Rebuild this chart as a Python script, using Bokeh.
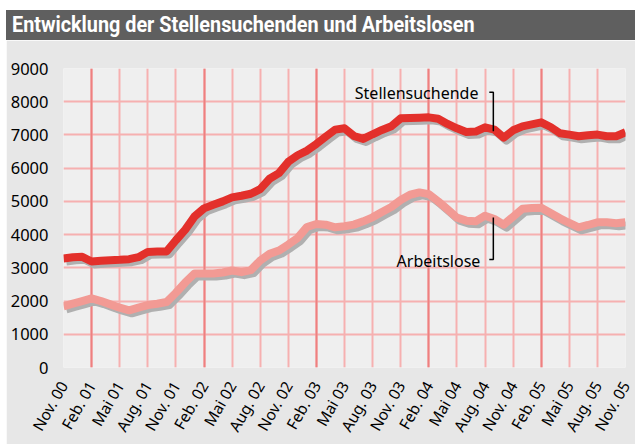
import math
from bokeh.plotting import figure
from bokeh.layouts import column
from bokeh.models import ColumnDataSource, FixedTicker, Grid, Label, Div
from bokeh.transform import dodge
from bokeh.embed import file_html
from bokeh.resources import INLINE

# ---------------- data ----------------
tick_labels = ["Nov. 00", "Feb. 01", "Mai 01", "Aug. 01", "Nov. 01",
               "Feb. 02", "Mai 02", "Aug. 02", "Nov. 02",
               "Feb. 03", "Mai 03", "Aug. 03", "Nov. 03",
               "Feb. 04", "Mai 04", "Aug. 04", "Nov. 04",
               "Feb. 05", "Mai 05", "Aug. 05", "Nov. 05"]

# monthly values, Nov. 00 .. Nov. 05
stellensuchende = [3280, 3320, 3330, 3190, 3210, 3230, 3240, 3260, 3320, 3480,
                   3490, 3490, 3830, 4150, 4550, 4790, 4900, 5000, 5120, 5170,
                   5230, 5370, 5680, 5850, 6190, 6390, 6530, 6730, 6950, 7160,
                   7200, 6970, 6880, 7020, 7150, 7260, 7500, 7510, 7520, 7530,
                   7490, 7330, 7200, 7090, 7100, 7230, 7160, 6920, 7140, 7260,
                   7320, 7380, 7240, 7050, 7010, 6960, 6990, 7010, 6960, 6960,
                   7080]
arbeitslose = [1840, 1920, 2000, 2080, 2000, 1900, 1800, 1720, 1800, 1880,
               1920, 1970, 2250, 2560, 2830, 2830, 2830, 2860, 2920, 2870,
               2930, 3220, 3420, 3520, 3700, 3900, 4230, 4320, 4300, 4220,
               4250, 4300, 4400, 4520, 4680, 4830, 5040, 5200, 5270, 5220,
               5000, 4760, 4510, 4420, 4400, 4570, 4470, 4300, 4540, 4780,
               4800, 4810, 4650, 4490, 4350, 4220, 4290, 4370, 4370, 4340,
               4370]
y_ticks = [0, 1000, 2000, 3000, 4000, 5000, 6000, 7000, 8000, 9000]

month_index = list(range(len(stellensuchende)))
tick_idx = [3 * i for i in range(len(tick_labels))]
feb_idx = [t for t, l in zip(tick_idx, tick_labels) if l.startswith("Feb")]

src = ColumnDataSource(dict(m=month_index, s=stellensuchende, a=arbeitslose))

FONT = "Noto Sans"

# ---------------- title bar ----------------
title = Div(text='<span style="display:inline-block; transform:scaleX(0.9); '
                 'transform-origin:left center;">'
                 'Entwicklung der Stellensuchenden und Arbeitslosen</span>',
            width=629, height=30, margin=(10, 0, 0, 6),
            styles={"background-color": "#5f5f5f", "color": "white",
                    "font-family": "Roboto", "font-weight": "bold",
                    "font-size": "22px", "line-height": "30px",
                    "padding-left": "6px", "box-sizing": "border-box",
                    "white-space": "nowrap", "overflow": "hidden"})

# ---------------- figure ----------------
p = figure(frame_width=562, frame_height=299,
           min_border_left=57, min_border_right=10,
           min_border_top=28, min_border_bottom=77,
           x_range=(0, 60), y_range=(0, 9000),
           output_backend="svg", toolbar_location=None,
           background_fill_color="#efefef", border_fill_color="#e7e7e7",
           margin=(0, 0, 0, 6))
p.outline_line_color = None
p.title.visible = False

# axes
p.xaxis.ticker = FixedTicker(ticks=tick_idx)
p.xaxis.major_label_overrides = {t: l for t, l in zip(tick_idx, tick_labels)}
p.xaxis.major_label_orientation = math.pi / 3
p.yaxis.ticker = FixedTicker(ticks=y_ticks)
for ax in (p.xaxis, p.yaxis):
    ax.axis_line_color = None
    ax.major_tick_line_color = None
    ax.minor_tick_line_color = None
    ax.major_label_text_font = FONT
    ax.major_label_text_color = "black"
p.xaxis.major_label_text_font_size = "15.5px"
p.xaxis.major_label_standoff = 9
p.yaxis.major_label_text_font_size = "16.5px"
p.yaxis.major_label_standoff = 9

# grids
p.xgrid.ticker = FixedTicker(ticks=tick_idx)
p.ygrid.ticker = FixedTicker(ticks=y_ticks)
for g in (p.xgrid, p.ygrid):
    g.grid_line_color = "#f6b0b0"
    g.grid_line_width = 2
p.add_layout(Grid(dimension=0, ticker=FixedTicker(ticks=feb_idx),
                  grid_line_color="#ee8080", grid_line_width=2))

# shadows
for col in ("a", "s"):
    p.line(x=dodge("m", 0.3), y=dodge(col, -90), source=src,
           line_color="#b0b0b0", line_width=8, line_join="round")
# series
p.line("m", "a", source=src, line_color="#f29a94", line_width=8, line_join="round")
p.line("m", "s", source=src, line_color="#e3302b", line_width=8, line_join="round")

# labels with leaders
p.add_layout(Label(x=44.3, y=8250, text="Stellensuchende", text_align="right",
                   text_baseline="middle", text_font=FONT, text_font_size="16px",
                   text_color="black"))
p.add_layout(Label(x=44.5, y=3193, text="Arbeitslose", text_align="right",
                   text_baseline="middle", text_font=FONT, text_font_size="16px",
                   text_color="black"))
p.line(x=[45.46, 45.89, 45.89], y=[8283, 8283, 7108], line_color="black", line_width=1.5)
p.line(x=[45.89, 45.89, 45.46], y=[4518, 3253, 3253], line_color="black", line_width=1.5)

layout = column(title, p, spacing=0)
open("out.html", "w").write(file_html(layout, INLINE))
